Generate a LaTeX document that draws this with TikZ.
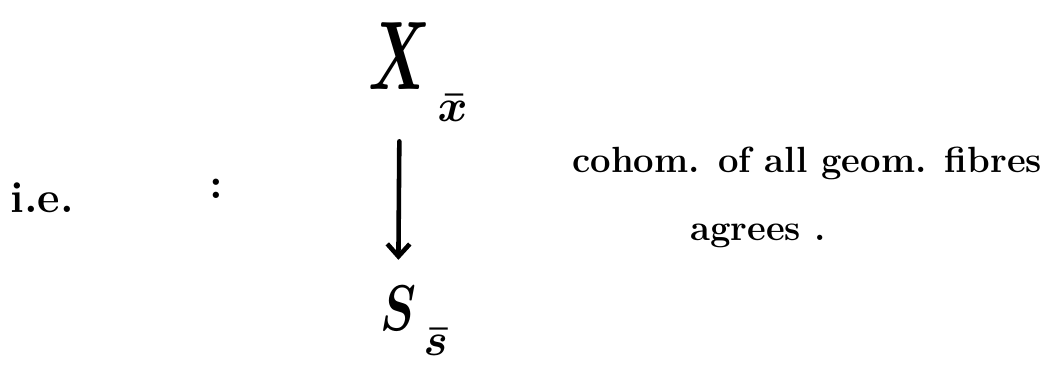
\documentclass[tikz,border=0pt]{standalone}
\usepackage{amsmath,amssymb}
\usepackage{xcolor}
\usetikzlibrary{arrows.meta,positioning}
\definecolor{inkblack}{HTML}{000000}
\tikzset{
every picture/.style={line cap=round,line join=round},
note text/.style={
  text=inkblack,
  inner sep=0pt,
  anchor=base west,
  font=\huge\bfseries,
  scale=1.0
},
big math/.style={text=inkblack, inner sep=0pt, anchor=base, font=\Large\boldmath, xscale=2.4, yscale=3.85},
mid math/.style={text=inkblack, inner sep=0pt, anchor=base, font=\Large\boldmath, xscale=1.9, yscale=2.55},
sub math/.style={text=inkblack, inner sep=0pt, anchor=base west, font=\Large\boldmath, scale=1.8},
map arrow/.style={
  draw=inkblack,
  -{Straight Barb[length=2.5mm,width=4.5mm]},
  line width=2.6pt
}
}

\begin{document}
\begin{tikzpicture}[x=0.02cm,y=-0.02cm]
\useasboundingbox (0,0) rectangle (1060,368);
% left part
\node[note text, scale=1.2] (ie) at (10,212) {i.e.};
\node[note text, scale=1.2] (colon) at (209,198) {:};
% the map
\node[big math] (X) at (400,90) {$X$};
\node[sub math] (xsub) at (437,121) {$\bar x$};
\node[mid math] (S) at (398,330) {$S$};
\node[sub math] (ssub) at (423,355) {$\bar s$};
\draw[map arrow, shorten <=1cm, shorten >=0.5cm] (X) -- (S);
% comment
\node[note text] (fibres) at (572,172) {cohom. of all geom. fibres};
\node[note text] (agrees) at (690,240) {agrees .};
\end{tikzpicture}
\end{document}
